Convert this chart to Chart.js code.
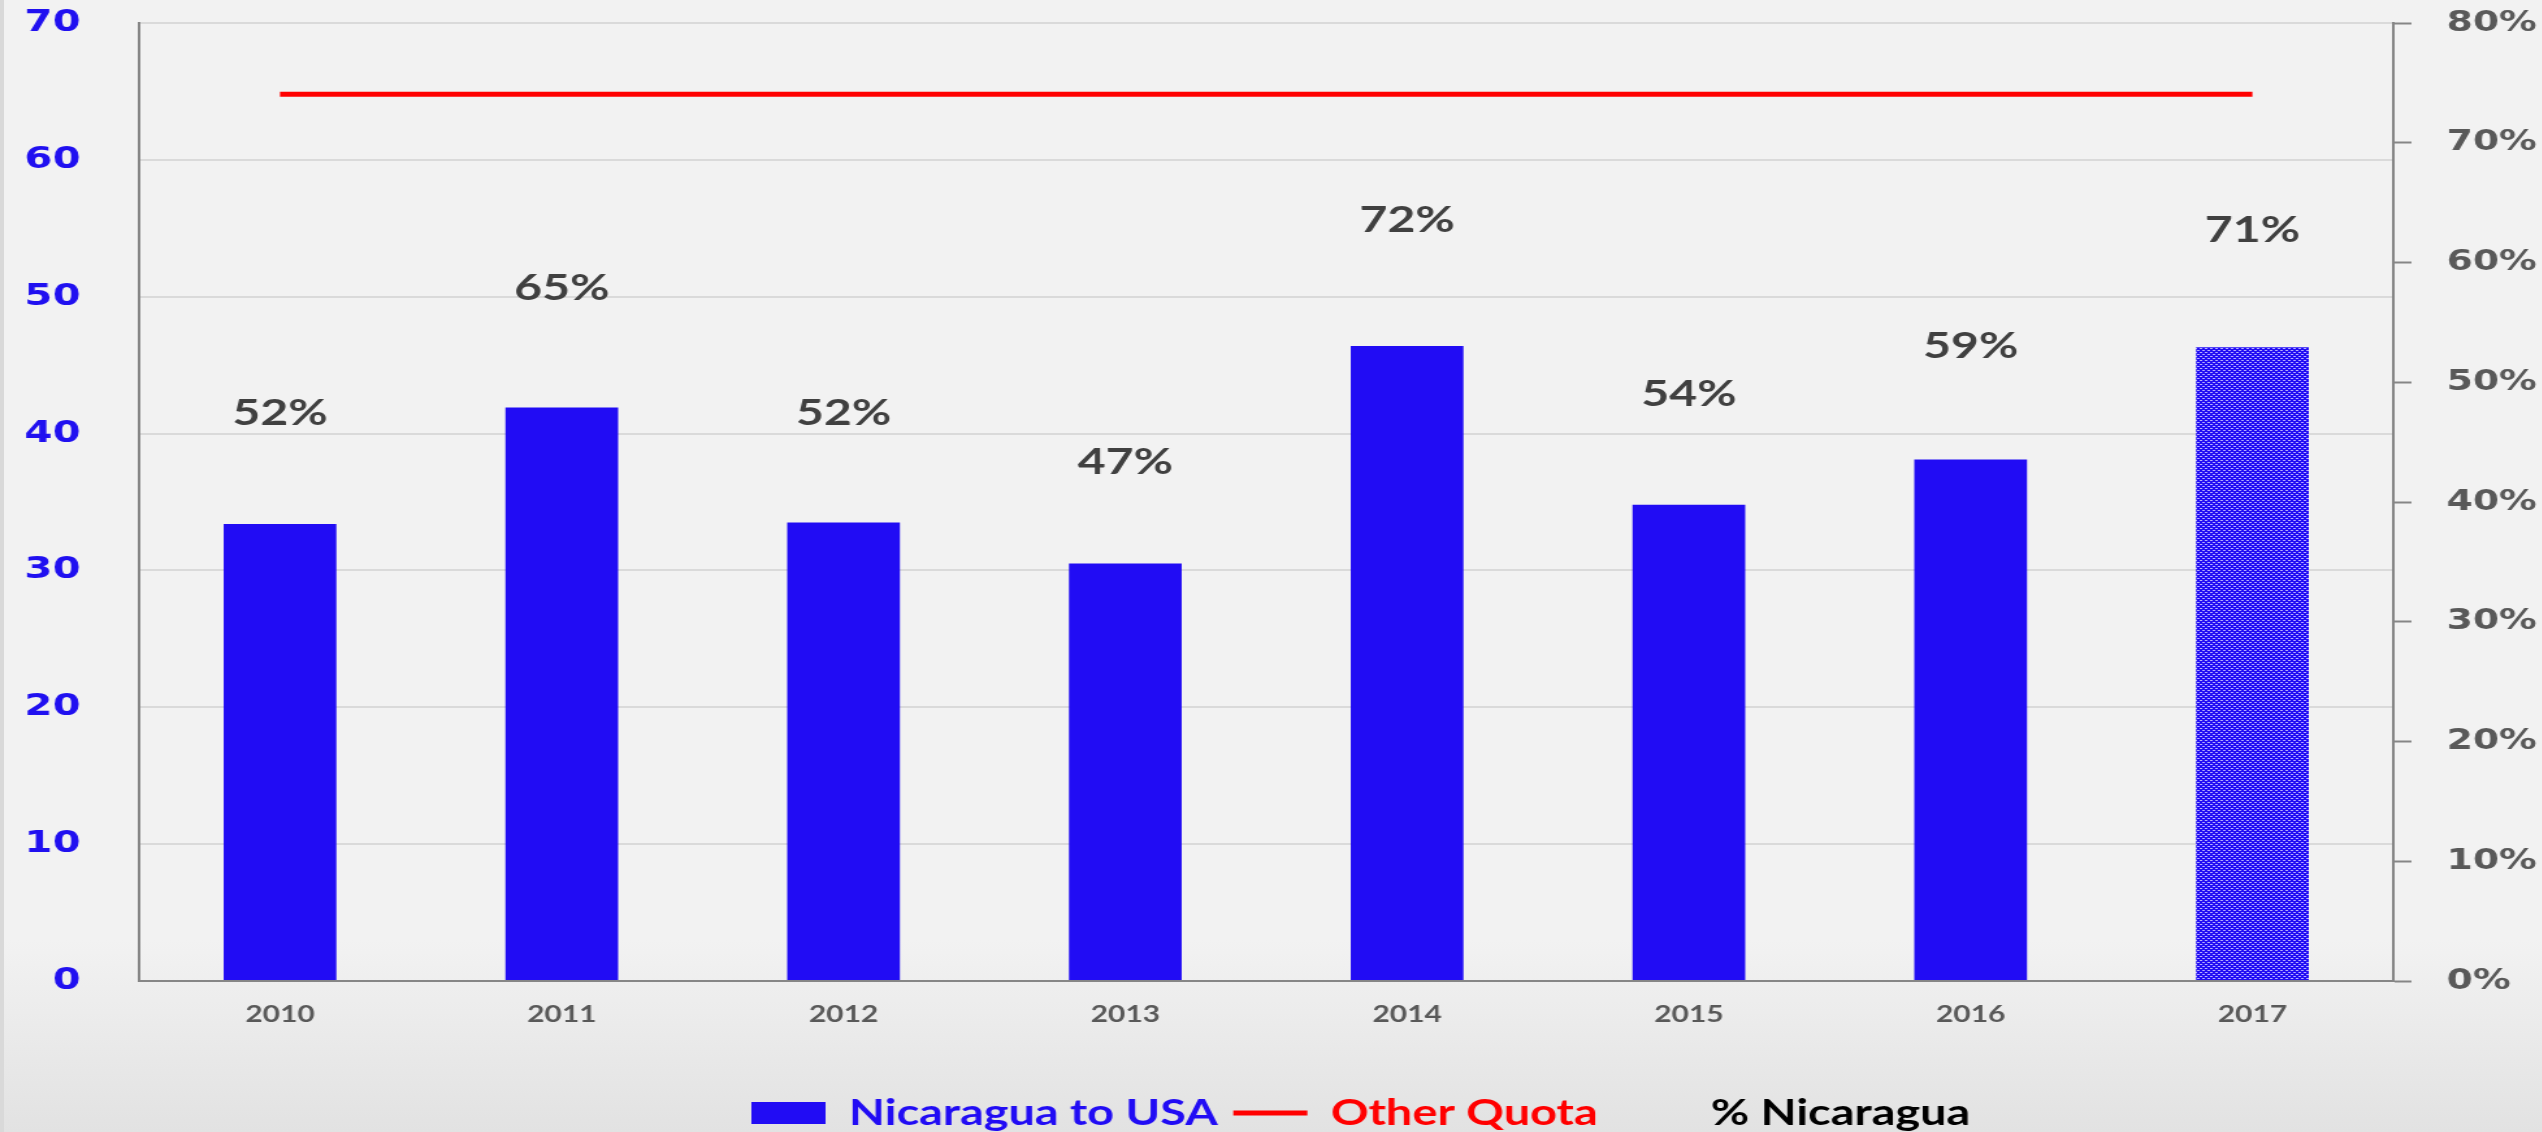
<!DOCTYPE html>
<html>
<head>
<meta charset="utf-8">
<script src="https://cdn.jsdelivr.net/npm/chart.js@4"></script>
<style>
  html, body { margin: 0; padding: 0; }
  body {
    width: 2542px; height: 1132px; overflow: hidden; position: relative;
    background: linear-gradient(to bottom, #f2f2f2 0%, #f2f2f2 83%, #e2e2e2 100%);
  }
  #edge { position: absolute; left: 0; top: 0; width: 4px; height: 1132px; background: #d9d9d9; }
  /* the reference is stretched sideways, so the chart is drawn narrow and scaled */
  #wrap { position: absolute; left: 0; top: 0; width: 1955px; height: 1132px;
          transform: scaleX(1.3); transform-origin: 0 0; }
</style>
</head>
<body>
<div id="edge"></div>
<div id="wrap"><canvas id="chart" width="1955" height="1132"></canvas></div>
<script>
const years = ["2010", "2011", "2012", "2013", "2014", "2015", "2016", "2017"];
const nicaraguaToUsa = [33.4, 41.9, 33.5, 30.5, 46.4, 34.8, 38.1, 46.3];
const otherQuota = [64.8, 64.8, 64.8, 64.8, 64.8, 64.8, 64.8, 64.8];
const pctNicaragua = [52, 65, 52, 47, 72, 54, 59, 71];
const seriesNames = ["Nicaragua to USA", "Other Quota", "% Nicaragua"];

const blue = "#210CF4";
const red = "#FF0000";
const axisGray = "#868686";

// hatched fill for the last (estimated) year
function hatch() {
  const p = document.createElement("canvas");
  p.width = 4; p.height = 4;
  const c = p.getContext("2d");
  c.fillStyle = blue;
  c.fillRect(0, 0, 4, 4);
  c.fillStyle = "#b4adff";
  c.fillRect(0, 0, 2, 1);
  c.fillRect(2, 2, 2, 1);
  return c.createPattern(p, "repeat");
}
const barColors = years.map((y, i) => i === years.length - 1 ? hatch() : blue);

const pctLabels = {
  id: "pctLabels",
  afterDatasetsDraw(chart) {
    const meta = chart.getDatasetMeta(2);
    const ctx = chart.ctx;
    ctx.save();
    ctx.font = "bold 37px Lato";
    ctx.fillStyle = "#404040";
    ctx.textAlign = "center";
    ctx.textBaseline = "middle";
    meta.data.forEach((pt, i) => ctx.fillText(pctNicaragua[i] + "%", pt.x, pt.y));
    ctx.restore();
  }
};

const legendPos = {
  id: "legendPos",
  afterLayout(chart) {
    const lg = chart.legend;
    const w = lg.right - lg.left, h = lg.bottom - lg.top;
    lg.left = 578 - 12; lg.right = lg.left + w;
    lg.top = 1113 - 18 - 12; lg.bottom = lg.top + h;
  }
};

// big tick padding would otherwise push the plot top down
function fixY(width) {
  return s => { s.width = width; s.paddingTop = 10; s.paddingBottom = 10; };
}

Chart.defaults.font.family = "Lato";

new Chart(document.getElementById("chart"), {
  type: "bar",
  data: {
    labels: years,
    datasets: [
      {
        label: seriesNames[0],
        data: nicaraguaToUsa,
        backgroundColor: barColors,
        borderWidth: 0,
        barPercentage: 0.5,
        categoryPercentage: 0.8,
        yAxisID: "y",
        order: 2
      },
      {
        type: "line",
        label: seriesNames[1],
        data: otherQuota,
        borderColor: red,
        borderWidth: 5,
        pointRadius: 0,
        yAxisID: "y",
        order: 1
      },
      {
        type: "line",
        label: seriesNames[2],
        data: pctNicaragua,
        showLine: false,
        pointRadius: 0,
        yAxisID: "yp",
        order: 0
      }
    ]
  },
  options: {
    responsive: false,
    animation: false,
    layout: { padding: { top: 23, left: 0, right: 0, bottom: 0 } },
    plugins: {
      tooltip: { enabled: false },
      legend: {
        position: "bottom",
        align: "start",
        labels: {
          usePointStyle: true,
          pointStyleWidth: 57,
          boxHeight: 22,
          padding: 12,
          font: { family: "Lato", weight: "bold", size: 36 },
          generateLabels: () => [
            { text: seriesNames[0], fillStyle: blue, strokeStyle: blue, lineWidth: 0, pointStyle: "rect", fontColor: blue, datasetIndex: 0 },
            { text: seriesNames[1], fillStyle: red, strokeStyle: red, lineWidth: 5, pointStyle: "line", fontColor: red, datasetIndex: 1 },
            { text: seriesNames[2], fillStyle: "rgba(0,0,0,0)", strokeStyle: "rgba(0,0,0,0)", lineWidth: 0, pointStyle: "rect", fontColor: "#000000", datasetIndex: 2 }
          ]
        }
      }
    },
    scales: {
      x: {
        grid: { display: false, drawTicks: false },
        border: { display: true, color: axisGray, width: 2 },
        ticks: { color: "#595959", padding: 20, font: { family: "Lato", weight: "bold", size: 23 } },
        afterFit(s) { s.height = 1132 - 981 - (s.chart.legend ? s.chart.legend.height : 0); }
      },
      y: {
        position: "left",
        min: 0, max: 70,
        ticks: { stepSize: 10, color: "#2010F0", padding: 45, font: { family: "DejaVu Sans", weight: "bold", size: 31 } },
        grid: { color: "#dadada", lineWidth: 2, drawTicks: false },
        border: { color: axisGray, width: 2 },
        afterFit: fixY(107)
      },
      y1: {
        position: "right",
        min: 0, max: 80,
        ticks: { stepSize: 10, color: "#595959", padding: 27, callback: v => v + "%",
                 font: { family: "DejaVu Sans", weight: "bold", size: 29 } },
        grid: { display: true, drawOnChartArea: false, drawTicks: true, tickLength: 14, tickColor: axisGray, tickWidth: 2 },
        border: { color: axisGray, width: 2 },
        afterFit: fixY(114)
      },
      yp: { display: false, min: -6.7, max: 92.4 }
    }
  },
  plugins: [pctLabels, legendPos]
});
</script>
</body>
</html>
